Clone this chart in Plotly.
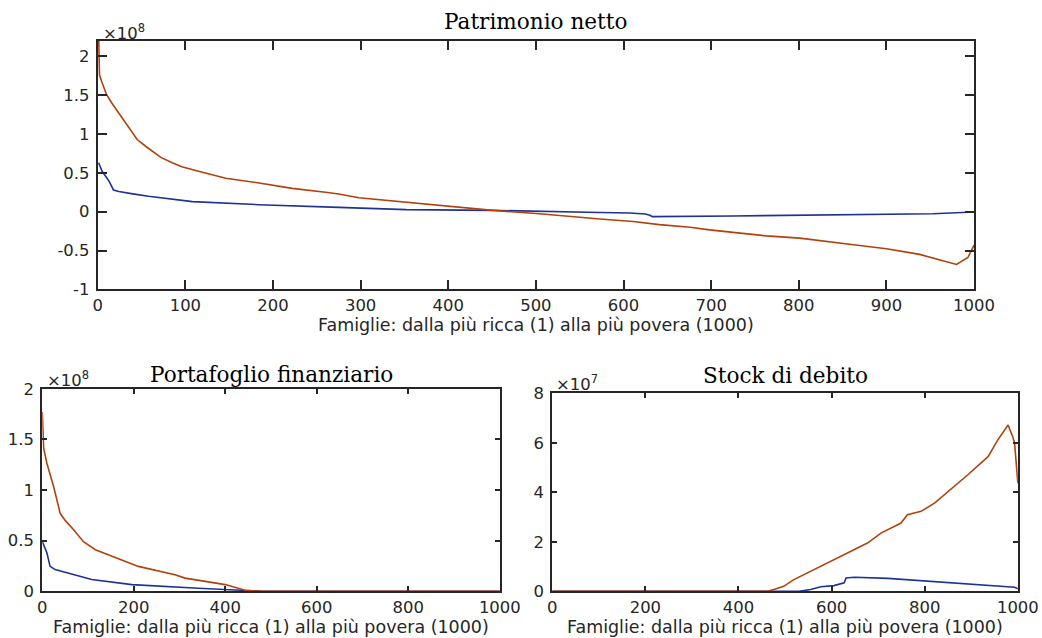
import plotly.graph_objects as go

# ---- Patrimonio netto (valori in euro) ----
nw_hi_x = [1, 2, 5, 10, 16, 24, 30, 36, 45, 55, 65, 72, 85, 96, 115, 146, 184, 222,
           260, 275, 298, 352, 397, 451, 504, 542, 573, 611, 641, 676, 698, 763, 801,
           858, 900, 938, 980, 993, 1000]
nw_hi_y = [2.30e8, 1.76e8, 1.66e8, 1.51e8, 1.40e8, 1.27e8, 1.17e8, 1.06e8, 0.93e8,
           0.84e8, 0.76e8, 0.70e8, 0.63e8, 0.58e8, 0.52e8, 0.43e8, 0.37e8, 0.30e8,
           0.25e8, 0.228e8, 0.18e8, 0.12e8, 0.068e8, 0.017e8, -0.026e8, -0.068e8,
           -0.094e8, -0.126e8, -0.167e8, -0.20e8, -0.234e8, -0.312e8, -0.34e8,
           -0.42e8, -0.477e8, -0.55e8, -0.68e8, -0.59e8, -0.43e8]

nw_lo_x = [1, 3, 5, 10, 13, 18, 24, 40, 58, 108, 184, 275, 352, 451, 542, 573, 607,
           625, 630, 633, 725, 839, 953, 1000]
nw_lo_y = [0.63e8, 0.58e8, 0.52e8, 0.44e8, 0.39e8, 0.28e8, 0.26e8, 0.23e8, 0.20e8,
           0.13e8, 0.09e8, 0.055e8, 0.026e8, 0.017e8, -0.009e8, -0.01e8, -0.017e8,
           -0.03e8, -0.045e8, -0.064e8, -0.055e8, -0.043e8, -0.026e8, -0.004e8]

# ---- Portafoglio finanziario ----
pf_hi_x = [0, 3, 10, 25, 39, 50, 68, 90, 116, 152, 210, 290, 312, 400, 443, 480, 1000]
pf_hi_y = [1.77e8, 1.41e8, 1.265e8, 1.03e8, 0.77e8, 0.70e8, 0.61e8, 0.49e8, 0.41e8,
           0.345e8, 0.246e8, 0.164e8, 0.13e8, 0.066e8, 0.01e8, 0.0, 0.0]

pf_lo_x = [0, 10, 17, 28, 108, 196, 341, 480, 1000]
pf_lo_y = [0.49e8, 0.38e8, 0.246e8, 0.214e8, 0.116e8, 0.066e8, 0.03e8, 0.0, 0.0]

# ---- Stock di debito ----
db_hi_x = [0, 462, 476, 497, 519, 548, 577, 605, 634, 677, 706, 749, 763, 792, 821,
           864, 892, 936, 957, 979, 989, 993, 1000]
db_hi_y = [0.0, 0.0, 0.07e7, 0.2e7, 0.47e7, 0.74e7, 1.0e7, 1.28e7, 1.55e7, 1.95e7,
           2.35e7, 2.76e7, 3.09e7, 3.23e7, 3.56e7, 4.23e7, 4.7e7, 5.44e7, 6.12e7,
           6.72e7, 6.25e7, 5.98e7, 4.37e7]

db_lo_x = [0, 530, 555, 577, 605, 627, 631, 649, 721, 864, 993, 1000]
db_lo_y = [0.0, 0.0, 0.07e7, 0.18e7, 0.23e7, 0.34e7, 0.54e7, 0.565e7, 0.52e7,
           0.34e7, 0.16e7, 0.1e7]

# ---- assi ----
top_xticks = list(range(0, 1001, 100))
bot_xticks = list(range(0, 1001, 200))
nw_yticks = [-1e8, -0.5e8, 0, 0.5e8, 1e8, 1.5e8, 2e8]
nw_ylabels = ["-1", "-0.5", "0", "0.5", "1", "1.5", "2"]
pf_yticks = [0, 0.5e8, 1e8, 1.5e8, 2e8]
pf_ylabels = ["0", "0.5", "1", "1.5", "2"]
db_yticks = [0, 2e7, 4e7, 6e7, 8e7]
db_ylabels = ["0", "2", "4", "6", "8"]

XLABEL = "Famiglie: dalla più ricca (1) alla più povera (1000)"
COL_HI = "#B2410C"
COL_LO = "#1E3296"
AX = "#262626"

# layout is planned on a 1042x638 sheet; the sheet is mapped onto the figure
SHEET_W, SHEET_H = 1042, 638
K = 0.973            # sheet px per figure px
OFF_X, OFF_Y = 6.5, 8.0
W = round((SHEET_W - OFF_X) / K)
H = round((SHEET_H - OFF_Y) / K)


def px_x(p):
    """sheet column -> paper coordinate"""
    return (p - OFF_X) / K / W


def px_y(p):
    """sheet row -> paper coordinate"""
    return 1 - (p - OFF_Y) / K / H


def fs(size):
    """sheet font size -> figure font size"""
    return size / K


fig = go.Figure()
line_w = 1.6
fig.add_trace(go.Scatter(x=nw_lo_x, y=nw_lo_y, mode="lines", line=dict(color=COL_LO, width=line_w), xaxis="x", yaxis="y"))
fig.add_trace(go.Scatter(x=nw_hi_x, y=nw_hi_y, mode="lines", line=dict(color=COL_HI, width=line_w), xaxis="x", yaxis="y"))
fig.add_trace(go.Scatter(x=pf_lo_x, y=pf_lo_y, mode="lines", line=dict(color=COL_LO, width=line_w), xaxis="x2", yaxis="y2"))
fig.add_trace(go.Scatter(x=pf_hi_x, y=pf_hi_y, mode="lines", line=dict(color=COL_HI, width=line_w), xaxis="x2", yaxis="y2"))
fig.add_trace(go.Scatter(x=db_lo_x, y=db_lo_y, mode="lines", line=dict(color=COL_LO, width=line_w), xaxis="x3", yaxis="y3"))
fig.add_trace(go.Scatter(x=db_hi_x, y=db_hi_y, mode="lines", line=dict(color=COL_HI, width=line_w), xaxis="x3", yaxis="y3"))

tick_font = dict(family="DejaVu Sans", size=fs(16), color=AX)
label_font = dict(family="DejaVu Sans", size=fs(17), color=AX)


def xaxis(dom, ticks, anchor, ticklen):
    return dict(domain=dom, range=[0, 1000], tickvals=ticks, ticks="inside",
                ticklen=ticklen, tickwidth=1.5, tickcolor=AX, showline=True,
                linecolor=AX, linewidth=2, mirror="ticks", showgrid=False,
                zeroline=False, tickfont=tick_font, anchor=anchor,
                ticklabelstandoff=0)


def yaxis(dom, rng, vals, labels, anchor, ticklen):
    return dict(domain=dom, range=rng, tickvals=vals, ticktext=labels,
                ticks="inside", ticklen=ticklen, tickwidth=1.5, tickcolor=AX,
                showline=True, linecolor=AX, linewidth=2, mirror="ticks",
                showgrid=False, zeroline=False, tickfont=tick_font,
                anchor=anchor, ticklabelstandoff=3)


top_x = [px_x(99), px_x(973)]
top_y = [px_y(289), px_y(40)]
bl_x = [px_x(43.7), px_x(500)]
bl_y = [px_y(591.7), px_y(388.7)]
br_x = [px_x(552.3), px_x(1016.7)]
br_y = [px_y(591.7), px_y(393.3)]

fig.update_layout(
    width=W, height=H, autosize=False,
    margin=dict(l=0, r=0, t=0, b=0),
    paper_bgcolor="white", plot_bgcolor="white",
    showlegend=False,
    xaxis=xaxis(top_x, top_xticks, "y", 9),
    yaxis=yaxis(top_y, [-1e8, 2.2e8], nw_yticks, nw_ylabels, "x", 9),
    xaxis2=xaxis(bl_x, bot_xticks, "y2", 5),
    yaxis2=yaxis(bl_y, [0, 2e8], pf_yticks, pf_ylabels, "x2", 5),
    xaxis3=xaxis(br_x, bot_xticks, "y3", 5),
    yaxis3=yaxis(br_y, [0, 8e7], db_yticks, db_ylabels, "x3", 5),
)

serif = dict(family="DejaVu Serif", size=fs(21), color="black")
exp_font = dict(family="DejaVu Sans", size=fs(16), color=AX)
annots = [
    dict(text="Patrimonio netto", x=sum(top_x) / 2, y=px_y(21), font=serif),
    dict(text="Portafoglio finanziario", x=sum(bl_x) / 2, y=px_y(374), font=serif),
    dict(text="Stock di debito", x=sum(br_x) / 2, y=px_y(375), font=serif),
    dict(text=XLABEL, x=sum(top_x) / 2, y=px_y(325), font=label_font),
    dict(text=XLABEL, x=sum(bl_x) / 2, y=px_y(628), font=label_font),
    dict(text=XLABEL, x=sum(br_x) / 2, y=px_y(628), font=label_font),
]
for a in annots:
    a.update(xref="paper", yref="paper", showarrow=False, xanchor="center", yanchor="middle")
exps = [
    dict(text="×10<sup>8</sup>", x=px_x(102), y=px_y(31)),
    dict(text="×10<sup>8</sup>", x=px_x(46), y=px_y(379)),
    dict(text="×10<sup>7</sup>", x=px_x(554), y=px_y(383)),
]
for a in exps:
    a.update(xref="paper", yref="paper", showarrow=False, xanchor="left",
             yanchor="middle", font=exp_font)
fig.update_layout(annotations=annots + exps)

fig.write_html("out.html")
